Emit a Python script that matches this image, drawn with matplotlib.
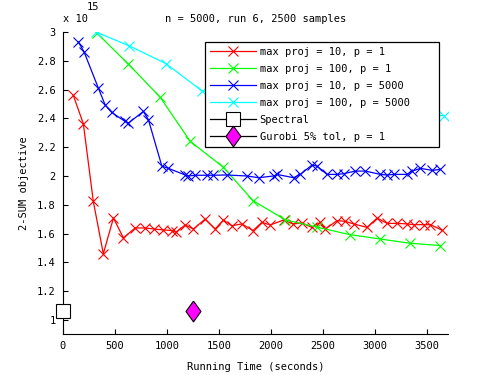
import matplotlib
matplotlib.use("Agg")
import matplotlib.pyplot as plt
from matplotlib.ticker import FuncFormatter

# objective values are in units of 1e15
red_t = [102, 198, 294, 390, 487, 583, 695, 791, 878, 967, 1048, 1086, 1176, 1256,
         1368, 1464, 1544, 1625, 1721, 1827, 1913, 1993, 2121, 2211, 2298, 2394,
         2474, 2522, 2635, 2714, 2794, 2923, 3019, 3115, 3212, 3308, 3371, 3467,
         3532, 3638]
red_v = [2.559, 2.363, 1.823, 1.460, 1.708, 1.570, 1.639, 1.639, 1.632, 1.625,
         1.621, 1.609, 1.660, 1.632, 1.701, 1.632, 1.694, 1.655, 1.667, 1.621,
         1.678, 1.660, 1.694, 1.667, 1.674, 1.643, 1.678, 1.632, 1.690, 1.685,
         1.667, 1.643, 1.708, 1.671, 1.671, 1.667, 1.662, 1.662, 1.662, 1.625]

green_t = [327, 631, 936, 1224, 1544, 1827, 2138, 2442, 2755, 3044, 3333, 3628]
green_v = [2.993, 2.777, 2.547, 2.241, 2.060, 1.829, 1.695, 1.645, 1.593, 1.563,
           1.533, 1.517]

blue_t = [150, 205, 343, 407, 471, 599, 631, 775, 823, 952, 1015, 1176, 1208, 1272,
          1384, 1448, 1576, 1769, 1881, 2025, 2058, 2217, 2282, 2394, 2442, 2538,
          2635, 2698, 2811, 2907, 3051, 3115, 3179, 3308, 3356, 3436, 3548, 3628]
blue_v = [2.931, 2.862, 2.609, 2.494, 2.441, 2.379, 2.368, 2.448, 2.391, 2.069,
          2.053, 2.007, 2.000, 2.005, 2.005, 2.005, 2.007, 2.000, 1.988, 2.000,
          2.011, 1.988, 2.011, 2.076, 2.069, 2.011, 2.011, 2.016, 2.034, 2.034,
          2.011, 2.007, 2.011, 2.011, 2.034, 2.053, 2.039, 2.046]

cyan_t = [320, 640, 990, 1337, 1680, 2000, 2330, 2660, 3000, 3330, 3666]
cyan_v = [3.000, 2.903, 2.781, 2.591, 2.55, 2.52, 2.49, 2.47, 2.45, 2.43, 2.419]

spectral_t = [0]
spectral_v = [1.065]
gurobi_t = [1256]
gurobi_v = [1.065]

plt.rcParams['font.family'] = 'DejaVu Sans Mono'
plt.rcParams['font.size'] = 7.5

fig = plt.figure(figsize=(4.95, 3.75), dpi=100)
ax = fig.add_axes([0.1267, 0.1083, 0.7783, 0.8064])

kw = dict(marker='x', markersize=6.5, markeredgewidth=0.8, linewidth=0.9)
ax.plot(red_t, red_v, color='#ff0000', label='max proj = 10, p = 1', **kw)
ax.plot(green_t, green_v, color='#00ff00', label='max proj = 100, p = 1', **kw)
ax.plot(blue_t, blue_v, color='#0000ff', label='max proj = 10, p = 5000', **kw)
ax.plot(cyan_t, cyan_v, color='#00ffff', label='max proj = 100, p = 5000', **kw)
ax.plot(spectral_t, spectral_v, color='black', marker='s', markersize=10,
        markerfacecolor='white', markeredgecolor='black', markeredgewidth=0.8,
        linewidth=0.9, label='Spectral', clip_on=False, zorder=5)
diamond = [(0, 1), (0.72, 0), (0, -1), (-0.72, 0), (0, 1)]
ax.plot(gurobi_t, gurobi_v, color='black', marker=diamond, markersize=15,
        markerfacecolor='#ff00ff', markeredgecolor='black', markeredgewidth=0.8,
        linewidth=0.9, label='Gurobi 5% tol, p = 1', zorder=5)

ax.set_xlim(0, 3700)
ax.set_ylim(0.9, 3)
ax.set_xticks(range(0, 3501, 500))
ax.set_yticks([1, 1.2, 1.4, 1.6, 1.8, 2, 2.2, 2.4, 2.6, 2.8, 3])
ax.yaxis.set_major_formatter(FuncFormatter(lambda v, p: '%g' % round(v, 2)))
ax.spines['top'].set_visible(False)
ax.spines['right'].set_visible(False)
ax.tick_params(direction='in', length=3.6, width=0.8, pad=5, labelsize=7.5)
ax.set_xlabel('Running Time (seconds)', labelpad=8)
ax.set_ylabel('2-SUM objective', labelpad=6)
ax.set_title('n = 5000, run 6, 2500 samples', fontsize=7.5, pad=7)

fig.text(63 / 495, 1 - 19 / 375, 'x 10', fontsize=7.5, va='center', ha='left')
fig.text(87 / 495, 1 - 7.5 / 375, '15', fontsize=7.5, va='center', ha='left')

leg = ax.legend(loc='upper left',
                bbox_to_anchor=(205 / 495, 1 - 144 / 375, 234 / 495, 102 / 375),
                bbox_transform=fig.transFigure, mode='expand', borderaxespad=0,
                fancybox=False, framealpha=1, edgecolor='black',
                handlelength=4.4, handletextpad=0.4, labelspacing=0.68,
                borderpad=0.45, numpoints=1)
leg.get_frame().set_linewidth(0.9)

fig.savefig('out.png', dpi=100)
